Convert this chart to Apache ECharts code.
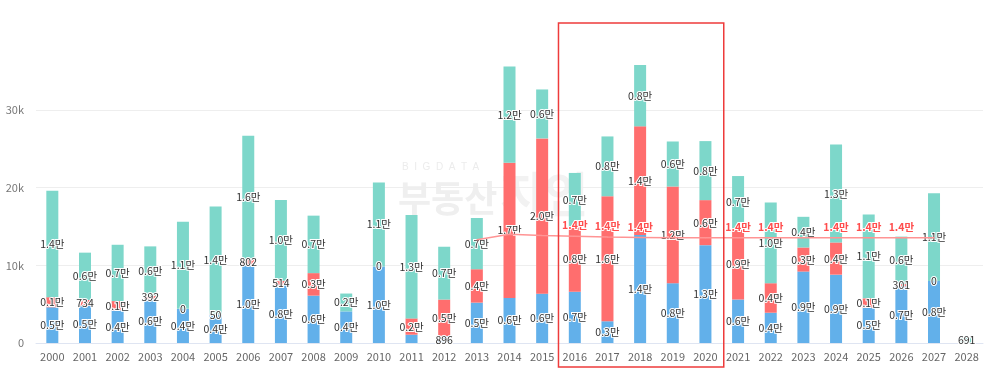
<!DOCTYPE html>
<html>
<head>
<meta charset="utf-8">
<script src="https://cdn.jsdelivr.net/npm/echarts@6/dist/echarts.min.js"></script>
<style>
html,body{margin:0;padding:0;background:#fff;}
#c{width:985px;height:369px;}
</style>
</head>
<body>
<div id="c"></div>
<script>
const years = ['2000','2001','2002','2003','2004','2005','2006','2007','2008','2009','2010','2011','2012','2013','2014','2015','2016','2017','2018','2019','2020','2021','2022','2023','2024','2025','2026','2027','2028'];
const blueVals = [4600,4800,4200,5700,4400,3640,10000,7500,6100,4070,9860,1070,896,5200,5800,6350,6600,2800,13900,7700,12600,5600,3900,9200,8800,4550,7300,8000,0];
const redVals  = [1300,734,1200,392,0,50,802,514,2900,0,0,2100,4700,4300,17400,20000,8400,16100,14000,12450,5800,9100,3800,3100,4150,1200,301,0,0];
const tealVals = [13700,6100,7250,6350,11200,13900,15900,10400,7400,2300,10800,13300,6800,6600,12400,6300,6900,7700,7900,5800,7600,6800,10400,3950,12600,10800,6100,11300,691];
const lineVals = ['-','-','-','-','-','-','-','-','-','-','-','-','-',13300,14000,13850,13750,13650,13600,13550,13550,13550,13550,13550,13550,13550,13550,13550,'-'];
const yTicks = [0,10000,20000,30000];
const boxFrom = '2016', boxTo = '2020';

const fmt = v => {
  const n = typeof v === 'object' ? v.value : v;
  return n >= 1000 ? (n/10000).toFixed(1) + '만' : String(n);
};
const firstLineIdx = lineVals.findIndex(v => v !== '-');
const labelFont = 'Noto Sans CJK KR';
const barLabel = {
  show: true, position: 'inside', color: '#333', fontSize: 10.5, fontFamily: labelFont,
  textBorderColor: '#fff', textBorderWidth: 2,
  formatter: p => fmt(p.value)
};
const mkBar = (name, data, color) => ({
  name, type: 'bar', stack: 'total', data, barWidth: 12,
  itemStyle: { color },
  label: barLabel,
  labelLayout: { hideOverlap: true }
});

const watermark = [
  { type: 'text', left: 402, top: 162, z: -10, style: { text: 'B  I  G  D  A  T  A', fill: '#ececec', font: '10px sans-serif' } },
  { type: 'text', left: 398, top: 180, z: -10, style: { text: '부동산', fill: '#efefef', font: 'bold 36px "Noto Sans CJK KR"' } },
  { type: 'text', left: 500, top: 170, z: -10, style: { text: '지인', fill: '#f2f2f2', font: 'bold 48px "Noto Sans CJK KR"' } }
];

const chart = echarts.init(document.getElementById('c'));
chart.setOption({
  animation: false,
  textStyle: { fontFamily: labelFont },
  grid: { left: 36, right: 2, top: 65, bottom: 26 },
  xAxis: {
    type: 'category', data: years,
    axisTick: { show: false },
    axisLine: { lineStyle: { color: '#dfe5f2' } },
    axisLabel: { color: '#666', fontSize: 11, margin: 8, fontFamily: labelFont }
  },
  yAxis: {
    type: 'value', min: 0, max: 'dataMax', interval: 10000,
    axisLabel: { color: '#777', fontSize: 11, margin: 12, showMaxLabel: false,
      formatter: v => yTicks.includes(v) ? (v === 0 ? '0' : (v/1000) + 'k') : '' },
    splitLine: { lineStyle: { color: '#eeeeee' }, showMaxLine: false }
  },
  graphic: watermark,
  series: [
    mkBar('blue', blueVals, '#62b0ea'),
    mkBar('red', redVals, '#ff6e6e'),
    mkBar('teal', tealVals, '#7dd7ca'),
    {
      name: 'line', type: 'line', data: lineVals, z: 5,
      symbol: 'circle', symbolSize: 1, showSymbol: true,
      lineStyle: { color: '#ff9494', width: 1.5 },
      itemStyle: { color: '#ff9494' },
      label: { show: true, position: 'top', distance: 5, color: '#ff4d4d', fontSize: 10.5, fontWeight: 'bold',
        fontFamily: labelFont, textBorderColor: '#fff', textBorderWidth: 2,
        formatter: p => p.dataIndex === firstLineIdx ? '' : fmt(p.value) },
      labelLayout: { hideOverlap: true }
    }
  ]
});

// Highlight box around 2016-2020 bands, positioned from the category scale
const x0 = chart.convertToPixel({ xAxisIndex: 0 }, boxFrom);
const x1 = chart.convertToPixel({ xAxisIndex: 0 }, boxTo);
const band = chart.convertToPixel({ xAxisIndex: 0 }, years[1]) - chart.convertToPixel({ xAxisIndex: 0 }, years[0]);
chart.setOption({
  graphic: watermark.concat([
    { type: 'rect', z: 100, shape: { x: x0 - band/2, y: 23, width: (x1 - x0) + band + 2, height: 344 },
      style: { fill: 'none', stroke: '#ee3b3b', lineWidth: 1.5 } }
  ])
});
</script>
</body>
</html>
